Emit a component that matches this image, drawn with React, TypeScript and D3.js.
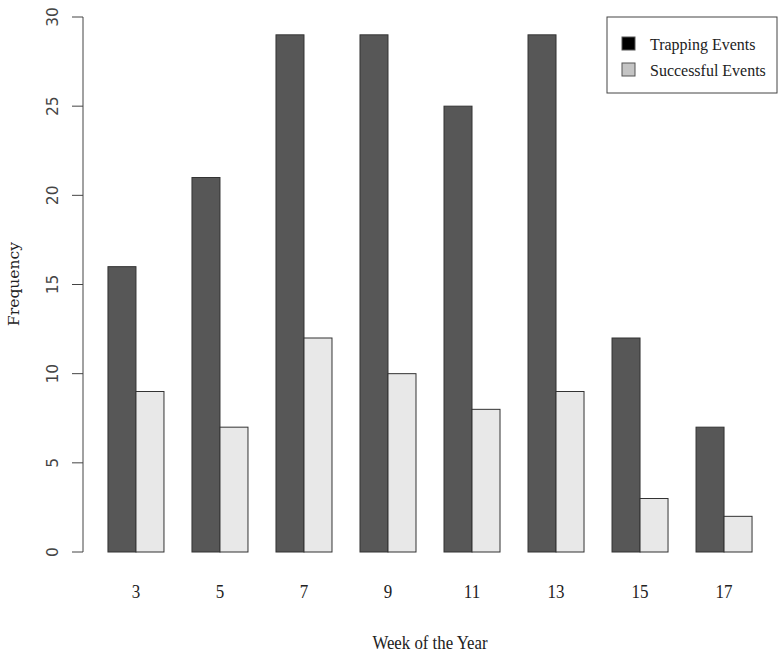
import React from "react";
import * as d3 from "d3";

const weeks = ["3", "5", "7", "9", "11", "13", "15", "17"];
const trapping = [16, 21, 29, 29, 25, 29, 12, 7];
const successful = [9, 7, 12, 10, 8, 9, 3, 2];
const yTicks = [0, 5, 10, 15, 20, 25, 30];
const seriesNames = ["Trapping Events", "Successful Events"];
const barColors = ["#575757", "#e8e8e8"];
const legendColors = ["#000000", "#c4c4c4"];

export default function App() {
  const W = 783, H = 656;
  // R-style barplot units: each group = 1 space + 2 bars
  const x = d3.scaleLinear().domain([0.08, 24.92]).range([82.2, 777.8]);
  const y = d3.scaleLinear().domain([0, 30]).range([552, 17]);
  const serif = "'Liberation Serif', 'Times New Roman', serif";
  const sans = "'DejaVu Sans', sans-serif";
  const series = [trapping, successful];

  return (
    <svg width={W} height={H} style={{ position: "absolute", left: 0, top: 0, background: "#fff" }}>
      {weeks.map((w, g) => {
        const start = g * 3 + 1;
        return (
          <g key={w}>
            {series.map((s, k) => (
              <rect
                key={k}
                x={x(start + k)}
                y={y(s[g])}
                width={x(start + k + 1) - x(start + k)}
                height={y(0) - y(s[g])}
                fill={barColors[k]}
                stroke="#333"
                strokeWidth={1}
              />
            ))}
            <text transform={`translate(${x(start + 1)},592) scale(1,1.15)`} textAnchor="middle" dominantBaseline="central"
              fontFamily={serif} fontSize={17} fill="#222">{w}</text>
          </g>
        );
      })}
      {/* y axis */}
      <line x1={83} x2={83} y1={y(0)} y2={y(30)} stroke="#444" />
      {yTicks.map(t => (
        <g key={t}>
          <line x1={72} x2={83} y1={y(t)} y2={y(t)} stroke="#444" />
          <text transform={`translate(53,${y(t)}) rotate(-90)`} textAnchor="middle" dominantBaseline="central"
            fontFamily={sans} fontSize={15.5} fill="#444">{t}</text>
        </g>
      ))}
      <text transform={`translate(14,284) rotate(-90)`} textAnchor="middle" dominantBaseline="central"
        fontFamily="'DejaVu Serif', serif" fontSize={15.5} fill="#222">Frequency</text>
      <text transform="translate(430,643) scale(1,1.08)" textAnchor="middle" dominantBaseline="central" fontFamily={serif} fontSize={16.8} fill="#222">Week of the Year</text>
      {/* legend */}
      <rect x={607} y={17} width={170} height={76} fill="#fff" stroke="#444" />
      {seriesNames.map((n, i) => (
        <g key={n}>
          <rect x={622} y={37 + i * 26} width={13} height={13} fill={legendColors[i]} stroke="#555" />
          <text transform={`translate(650,${44 + i * 26}) scale(1,1.1)`} dominantBaseline="central" fontFamily={serif} fontSize={16} fill="#222">{n}</text>
        </g>
      ))}
    </svg>
  );
}
